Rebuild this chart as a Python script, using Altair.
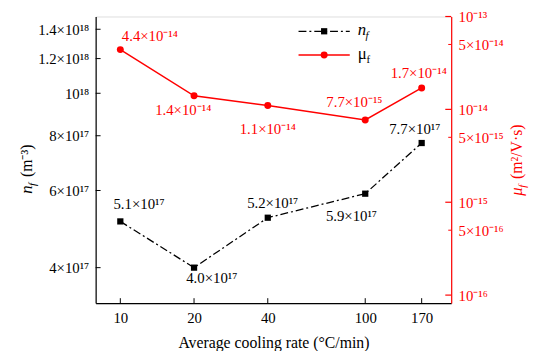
import altair as alt
import pandas as pd

# ---- data ----
rates = [10, 20, 40, 100, 170]
n_f = [5.1e17, 4.0e17, 5.2e17, 5.9e17, 7.7e17]
mu_f = [4.4e-14, 1.4e-14, 1.1e-14, 7.7e-15, 1.7e-14]
n_labels = ["5.1×10¹⁷", "4.0×10¹⁷", "5.2×10¹⁷", "5.9×10¹⁷", "7.7×10¹⁷"]
mu_labels = ["4.4×10⁻¹⁴", "1.4×10⁻¹⁴", "1.1×10⁻¹⁴", "7.7×10⁻¹⁵", "1.7×10⁻¹⁴"]

n_ticks = [4e17, 6e17, 8e17, 1e18, 1.2e18, 1.4e18]
n_tick_labels = ["4×10¹⁷", "6×10¹⁷", "8×10¹⁷", "10¹⁸", "1.2×10¹⁸", "1.4×10¹⁸"]
mu_ticks = [1e-16, 5e-16, 1e-15, 5e-15, 1e-14, 5e-14, 1e-13]
mu_tick_labels = ["10⁻¹⁶", "5×10⁻¹⁶", "10⁻¹⁵", "5×10⁻¹⁵", "10⁻¹⁴", "5×10⁻¹⁴", "10⁻¹³"]
mu_major = [1e-16, 1e-15, 1e-14, 1e-13]
mu_minor = [5e-16, 5e-15, 5e-14]

x_title = "Average cooling rate (°C/min)"

# ---- styling ----
W, H = 361, 291
FONT = "Liberation Serif"
RED = "#ff0000"
DASH = [8, 3, 2, 3]

# label offsets (dx, dy) per point
n_off = [(19, -18), (18, 11), (5, -15), (-14, 23), (-7, -14)]
mu_off = [(30, -14), (-11, 14), (0, 24), (-11, -18), (-3, -15)]


def label_expr(vals, labs):
    expr = "''"
    for v, l in zip(reversed(vals), reversed(labs)):
        expr = f"abs(datum.value/{v:e}-1)<1e-6 ? '{l}' : " + expr
    return expr


df = pd.DataFrame({"rate": rates, "n": n_f, "mu": mu_f,
                   "nlab": n_labels, "mulab": mu_labels})

X = alt.X(
    "rate:Q",
    scale=alt.Scale(type="log", domain=[7.93, 224.4], nice=False),
    axis=alt.Axis(values=rates, format="d", title=x_title,
                  grid=False, ticks=False, tickSize=0, labelPadding=8,
                  labelFont=FONT, labelFontSize=15, labelColor="black",
                  titleFont=FONT, titleFontSize=16, titleFontWeight="normal",
                  titleColor="black", titlePadding=9,
                  domainColor="black", domainWidth=1.2),
)

Yn = alt.Y(
    "n:Q",
    scale=alt.Scale(type="log", domain=[3.32e17, 1.497e18], nice=False),
    axis=alt.Axis(values=n_ticks, labelExpr=label_expr(n_ticks, n_tick_labels),
                  title=None, grid=False, ticks=False, tickSize=0,
                  labelPadding=7, labelFont=FONT, labelFontSize=15,
                  labelColor="black", domainColor="black", domainWidth=1.2),
)

Ymu = alt.Y(
    "mu:Q",
    scale=alt.Scale(type="log", domain=[8.2e-17, 1e-13], nice=False),
    axis=alt.Axis(orient="right", values=mu_ticks,
                  labelExpr=label_expr(mu_ticks, mu_tick_labels),
                  title=None, grid=False, ticks=False,
                  tickSize=0, labelPadding=7, labelFont=FONT, labelFontSize=15,
                  labelColor=RED, domainColor=RED, domainWidth=1.2),
)

base = alt.Chart(df)
one = alt.Data(values=[{}])


def txt(text, x, y, color="black", size=16, italic=False, angle=0, align="left",
        baseline="middle"):
    kw = dict(text=text, font=FONT, fontSize=size, align=align, baseline=baseline,
              color=color, angle=angle)
    if italic:
        kw["fontStyle"] = "italic"
    return alt.Chart(one).mark_text(**kw).encode(x=alt.value(x), y=alt.value(y))


# ---- n_f group ----
n_line = base.mark_line(color="black", strokeDash=DASH, strokeWidth=1.3).encode(x=X, y=Yn)
n_pts = base.mark_point(shape="square", filled=True, size=40, color="black", opacity=1).encode(x=X, y=Yn)
n_texts = [
    base.transform_filter(alt.datum.rate == r)
    .mark_text(font=FONT, fontSize=15, color="black", dx=dx, dy=dy, baseline="middle")
    .encode(x=X, y=Yn, text="nlab:N")
    for r, (dx, dy) in zip(rates, n_off)
]
n_tick_rules = alt.Chart(pd.DataFrame({"n": n_ticks})).mark_rule(
    color="black", strokeWidth=1).encode(y=Yn, x=alt.value(0), x2=alt.value(5))
x_tick_rules = alt.Chart(pd.DataFrame({"rate": rates})).mark_rule(
    color="black", strokeWidth=1).encode(x=X, y=alt.value(H), y2=alt.value(H - 5))

# left axis title: italic n with subscript f, then (m⁻³)
left_title = [
    txt("n", -65, 180, size=17, italic=True, angle=270, baseline="alphabetic"),
    txt("f", -61, 172, size=11, italic=True, angle=270, baseline="alphabetic"),
    txt("(m⁻³)", -65, 163, size=16, angle=270, baseline="alphabetic"),
]

# legend
leg = [
    alt.Chart(one).mark_rule(color="black", strokeDash=DASH, strokeWidth=1.3).encode(
        x=alt.value(206), x2=alt.value(258), y=alt.value(15)),
    alt.Chart(one).mark_point(shape="square", filled=True, size=40, color="black", opacity=1).encode(
        x=alt.value(232), y=alt.value(15)),
    txt("n", 266, 14, size=17, italic=True),
    txt("f", 274, 20, size=11, italic=True),
    alt.Chart(one).mark_rule(color=RED, strokeWidth=1.5).encode(
        x=alt.value(206), x2=alt.value(258), y=alt.value(39)),
    alt.Chart(one).mark_point(shape="circle", filled=True, size=50, color=RED, opacity=1).encode(
        x=alt.value(232), y=alt.value(39)),
    txt("μ", 266, 38, size=17),
    txt("f", 275, 44, size=11),
]

left = alt.layer(n_line, n_pts, *n_texts, n_tick_rules, x_tick_rules, *leg, *left_title)

# ---- mu_f group ----
mu_line = base.mark_line(color=RED, strokeWidth=1.5).encode(x=X, y=Ymu)
mu_pts = base.mark_point(shape="circle", filled=True, size=50, color=RED, opacity=1).encode(x=X, y=Ymu)
mu_texts = [
    base.transform_filter(alt.datum.rate == r)
    .mark_text(font=FONT, fontSize=15, color=RED, dx=dx, dy=dy, baseline="middle")
    .encode(x=X, y=Ymu, text="mulab:N")
    for r, (dx, dy) in zip(rates, mu_off)
]
mu_major_rules = alt.Chart(pd.DataFrame({"mu": mu_major})).mark_rule(
    color=RED, strokeWidth=1.2).encode(y=Ymu, x=alt.value(W), x2=alt.value(W - 6))
mu_minor_rules = alt.Chart(pd.DataFrame({"mu": mu_minor})).mark_rule(
    color=RED, strokeWidth=1).encode(y=Ymu, x=alt.value(W), x2=alt.value(W - 3))

right_title = [
    txt("μ", W + 72, 182, color=RED, size=17, italic=True, angle=270, baseline="alphabetic"),
    txt("f", W + 76, 174, color=RED, size=11, italic=True, angle=270, baseline="alphabetic"),
    txt("(m²/V·s)", W + 72, 165, color=RED, size=16, angle=270, baseline="alphabetic"),
]

right = alt.layer(mu_line, mu_pts, *mu_texts, mu_major_rules, mu_minor_rules, *right_title)

chart = (
    alt.layer(left, right)
    .resolve_scale(y="independent")
    .properties(
        width=W, height=H,
        autosize=alt.AutoSizeParams(type="none"),
        padding={"left": 89, "top": 6, "right": 79, "bottom": 46},
    )
    .configure_view(stroke="black", strokeWidth=1.2)
    .configure(background="white")
)

chart.save("out.html", embed_options={"renderer": "svg", "actions": False})
